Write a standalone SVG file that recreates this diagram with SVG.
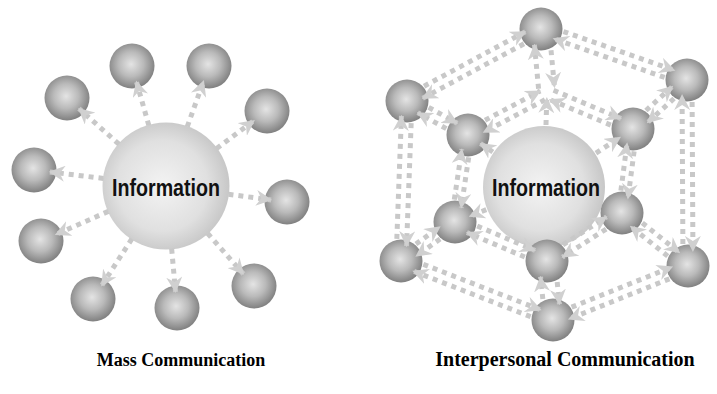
<svg xmlns="http://www.w3.org/2000/svg" width="717" height="394" viewBox="0 0 717 394">
<defs>
<radialGradient id="gs" cx="0.48" cy="0.46" r="0.55">
<stop offset="0" stop-color="#e4e4e4"/><stop offset="0.5" stop-color="#bababa"/><stop offset="1" stop-color="#7e7e7e"/>
</radialGradient>
<radialGradient id="gb" cx="0.47" cy="0.5" r="0.55">
<stop offset="0" stop-color="#f3f3f3"/><stop offset="0.65" stop-color="#e0e0e0"/><stop offset="1" stop-color="#c4c4c4"/>
</radialGradient>
<marker id="ah" viewBox="0 0 16 16" refX="15" refY="8" markerWidth="16" markerHeight="16" markerUnits="userSpaceOnUse" orient="auto">
<path d="M0,0 L16,8 L0,16 L5,8 Z" fill="#d0d0d0"/>
</marker>
</defs>
<style>
.sb{fill:url(#gs)}
.bb{fill:url(#gb)}
.c line{stroke:#c8c8c8;stroke-width:5;stroke-dasharray:5 5;fill:none;marker-end:url(#ah)}
.info{font-family:"Liberation Sans",Arial,sans-serif;font-size:24px;font-weight:bold;fill:#111;text-anchor:middle}
.lbl{font-family:"Liberation Serif","Times New Roman",serif;font-weight:bold;fill:#000;text-anchor:middle}
</style>
<rect width="717" height="394" fill="#fff"/>

<!-- Mass communication nodes -->
<g id="m-center"><circle class="bb" cx="166" cy="186" r="63.5"/><text class="info" x="166" y="196" textLength="108" lengthAdjust="spacingAndGlyphs">Information</text></g>
<g id="m1"><circle class="sb" cx="132" cy="66" r="22.5"/></g>
<g id="m2"><circle class="sb" cx="209" cy="66" r="22.5"/></g>
<g id="m3"><circle class="sb" cx="67" cy="98" r="22.5"/></g>
<g id="m4"><circle class="sb" cx="267" cy="111" r="22.5"/></g>
<g id="m5"><circle class="sb" cx="34" cy="170" r="22.5"/></g>
<g id="m6"><circle class="sb" cx="287" cy="202" r="22.5"/></g>
<g id="m7"><circle class="sb" cx="41" cy="241" r="22.5"/></g>
<g id="m8"><circle class="sb" cx="93" cy="299" r="22.5"/></g>
<g id="m9"><circle class="sb" cx="177" cy="308" r="22.5"/></g>
<g id="m10"><circle class="sb" cx="254" cy="286" r="22.5"/></g>

<!-- Interpersonal nodes -->
<g id="i-center"><circle class="bb" cx="544" cy="187" r="61"/><text class="info" x="546" y="196" textLength="108" lengthAdjust="spacingAndGlyphs">Information</text></g>
<g id="T"><circle class="sb" cx="541" cy="29" r="21.5"/></g>
<g id="UR"><circle class="sb" cx="687" cy="80" r="21.5"/></g>
<g id="UL"><circle class="sb" cx="407" cy="101" r="21.5"/></g>
<g id="LL"><circle class="sb" cx="401" cy="261" r="21.5"/></g>
<g id="LR"><circle class="sb" cx="688" cy="266" r="21.5"/></g>
<g id="B"><circle class="sb" cx="553" cy="320" r="21.5"/></g>
<g id="IUL"><circle class="sb" cx="468" cy="135" r="21.5"/></g>
<g id="IUR"><circle class="sb" cx="633" cy="129" r="21.5"/></g>
<g id="ILL"><circle class="sb" cx="455" cy="222" r="21.5"/></g>
<g id="ILR"><circle class="sb" cx="622" cy="213" r="21.5"/></g>
<g id="IB"><circle class="sb" cx="547" cy="261" r="21.5"/></g>

<g id="connectors" class="c">
<!-- mass -->
<g transform="translate(166,186) rotate(-105.82)"><line x1="63" y1="0" x2="108.7" y2="0"/></g>
<g transform="translate(166,186) rotate(-70.28)"><line x1="63" y1="0" x2="111.5" y2="0"/></g>
<g transform="translate(166,186) rotate(-138.37)"><line x1="63" y1="0" x2="116.5" y2="0"/></g>
<g transform="translate(166,186) rotate(-36.6)"><line x1="63" y1="0" x2="109.8" y2="0"/></g>
<g transform="translate(166,186) rotate(-173.09)"><line x1="63" y1="0" x2="117" y2="0"/></g>
<g transform="translate(166,186) rotate(7.53)"><line x1="63" y1="0" x2="106.1" y2="0"/></g>
<g transform="translate(166,186) rotate(156.25)"><line x1="63" y1="0" x2="120.6" y2="0"/></g>
<g transform="translate(166,186) rotate(122.86)"><line x1="63" y1="0" x2="118.5" y2="0"/></g>
<g transform="translate(166,186) rotate(84.85)"><line x1="63" y1="0" x2="106.5" y2="0"/></g>
<g transform="translate(166,186) rotate(48.65)"><line x1="63" y1="0" x2="117.2" y2="0"/></g>
<!-- interpersonal: outer hexagon -->
<g transform="translate(541,29) rotate(151.75)"><line x1="22" y1="-5" x2="137.1" y2="-5"/><line x1="130.1" y1="5" x2="15" y2="5"/></g>
<g transform="translate(541,29) rotate(19.25)"><line x1="22" y1="-5" x2="139.7" y2="-5"/><line x1="132.7" y1="5" x2="15" y2="5"/></g>
<g transform="translate(407,101) rotate(92.15)"><line x1="22" y1="-5" x2="145.1" y2="-5"/><line x1="138.1" y1="5" x2="15" y2="5"/></g>
<g transform="translate(687,80) rotate(89.69)"><line x1="22" y1="-5" x2="171" y2="-5"/><line x1="164" y1="5" x2="15" y2="5"/></g>
<g transform="translate(401,261) rotate(21.21)"><line x1="22" y1="-5" x2="148" y2="-5"/><line x1="141" y1="5" x2="15" y2="5"/></g>
<g transform="translate(688,266) rotate(158.2)"><line x1="22" y1="-5" x2="130.4" y2="-5"/><line x1="123.4" y1="5" x2="15" y2="5"/></g>
<!-- inner hexagon -->
<g transform="translate(547,93) rotate(152.01)"><line x1="5" y1="-5" x2="74.5" y2="-5"/><line x1="67.5" y1="5" x2="5" y2="5"/></g>
<g transform="translate(547,93) rotate(22.71)"><line x1="5" y1="-5" x2="78.2" y2="-5"/><line x1="71.2" y1="5" x2="5" y2="5"/></g>
<g transform="translate(468,135) rotate(98.5)"><line x1="22" y1="-4" x2="73" y2="-4"/><line x1="66" y1="4" x2="15" y2="4"/></g>
<g transform="translate(633,129) rotate(97.46)"><line x1="22" y1="-4" x2="69.7" y2="-4"/><line x1="62.7" y1="4" x2="15" y2="4"/></g>
<g transform="translate(455,222) rotate(22.97)"><line x1="22" y1="-5" x2="84.9" y2="-5"/><line x1="77.9" y1="5" x2="15" y2="5"/></g>
<g transform="translate(622,213) rotate(147.38)"><line x1="22" y1="-5" x2="74" y2="-5"/><line x1="67" y1="5" x2="15" y2="5"/></g>
<!-- outer to inner -->
<g transform="translate(541,29) rotate(84.64)"><line x1="22" y1="-8" x2="59.3" y2="-8"/><line x1="59.3" y1="8" x2="15" y2="8"/></g>
<g transform="translate(407,101) rotate(29.13)"><line x1="22" y1="-5" x2="54.8" y2="-5"/><line x1="47.8" y1="5" x2="15" y2="5"/></g>
<g transform="translate(687,80) rotate(137.78)"><line x1="22" y1="-5" x2="57.9" y2="-5"/><line x1="50.9" y1="5" x2="15" y2="5"/></g>
<g transform="translate(401,261) rotate(-35.84)"><line x1="22" y1="-5" x2="51.6" y2="-5"/><line x1="44.6" y1="5" x2="15" y2="5"/></g>
<g transform="translate(688,266) rotate(-141.24)"><line x1="22" y1="-5" x2="69.6" y2="-5"/><line x1="62.6" y1="5" x2="15" y2="5"/></g>
<g transform="translate(553,320) rotate(-95.81)"><line x1="22" y1="-8" x2="44.3" y2="-8"/><line x1="37.3" y1="8" x2="15" y2="8"/></g>
<!-- center to inner -->
<g transform="translate(544,187) rotate(-88.17)"><line x1="62" y1="0" x2="89" y2="0"/></g>
<g transform="translate(544,187) rotate(-145.62)"><line x1="62" y1="0" x2="77" y2="0"/></g>
<g transform="translate(544,187) rotate(-33.09)"><line x1="62" y1="0" x2="91" y2="0"/></g>
<g transform="translate(544,187) rotate(158.53)"><line x1="62" y1="0" x2="80" y2="0"/></g>
</g>

<text class="lbl" x="181" y="366" font-size="18">Mass Communication</text>
<text class="lbl" x="565" y="366" font-size="20">Interpersonal Communication</text>
</svg>
